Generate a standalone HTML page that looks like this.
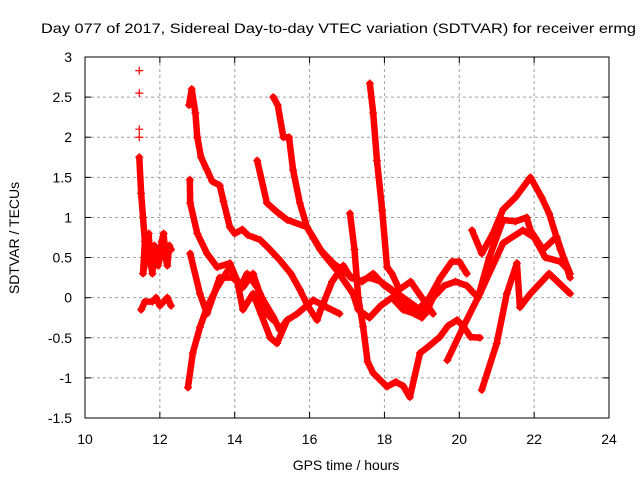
<!DOCTYPE html>
<html><head><meta charset="utf-8"><style>
html,body{margin:0;padding:0;background:#fff}
svg{display:block;font-family:"Liberation Sans",sans-serif}
</style></head><body>
<svg id="chart" width="640" height="480" viewBox="0 0 640 480">
<text x="41" y="33" font-size="14" textLength="595" lengthAdjust="spacingAndGlyphs">Day 077 of 2017, Sidereal Day-to-day VTEC variation (SDTVAR) for receiver ermg</text>
<text x="346" y="470" font-size="14" text-anchor="middle">GPS time / hours</text>
<text transform="translate(19,238) rotate(-90)" font-size="14" text-anchor="middle">SDTVAR / TECUs</text>
<g id="grid"></g>
<g id="ticks"></g>
<g id="marks"></g>
<rect x="85" y="57" width="524" height="361" fill="none" stroke="#000" stroke-width="1"/>
</svg>
<script>
const xTicks=[10,12,14,16,18,20,22,24];
const yTicks=[-1.5,-1,-0.5,0,0.5,1,1.5,2,2.5,3];
const isolated=[[11.45,2.83],[11.45,2.55],[11.45,2.1],[11.45,2.0]];
const trackA1=[[11.45,1.75],[11.5,1.3],[11.55,1.0],[11.6,0.7],[11.55,0.3],[11.65,0.55],[11.7,0.8],[11.75,0.45],[11.8,0.3],[11.85,0.65],[11.9,0.6],[11.95,0.4],[12.0,0.5],[12.05,0.7],[12.1,0.8],[12.15,0.5],[12.2,0.4],[12.25,0.65],[12.3,0.6]];
const trackA2=[[11.5,-0.15],[11.6,-0.05],[11.8,-0.05],[11.9,0.0],[12.0,-0.1],[12.1,-0.05],[12.2,0.0],[12.3,-0.1]];
const trackB=[[12.78,2.4],[12.85,2.6],[12.95,2.3],[13.0,2.0],[13.1,1.75],[13.25,1.6],[13.4,1.45],[13.6,1.4],[13.7,1.2],[13.87,0.88],[14.0,0.8],[14.2,0.85],[14.35,0.78],[14.68,0.72],[14.9,0.62],[15.2,0.47],[15.5,0.3],[15.74,0.1],[15.95,-0.1],[16.2,-0.28],[16.3,-0.15],[16.6,0.2],[16.9,0.4],[17.1,0.25],[17.4,0.2],[17.7,0.3],[18.0,0.15],[18.3,0.05],[18.6,-0.1],[18.9,-0.15],[19.2,0.0],[19.5,0.25],[19.8,0.45],[20.0,0.45],[20.2,0.3]];
const trackC=[[14.6,1.71],[14.86,1.18],[15.1,1.08],[15.4,0.97],[15.93,0.88],[16.28,0.6],[16.63,0.43],[17.0,0.3],[17.3,0.2],[17.6,0.25],[17.9,0.2],[18.2,0.1],[18.5,0.0],[18.8,-0.1],[19.1,-0.2],[19.3,0.0],[19.6,0.15],[19.9,0.2],[20.2,0.15],[20.5,0.0]];
const trackD=[[15.03,2.5],[15.15,2.4],[15.3,2.0],[15.45,2.0],[15.56,1.59],[15.74,1.18],[15.93,0.88],[16.36,0.55],[16.73,0.34],[17.16,0.05],[17.3,-0.15],[17.6,-0.25],[17.9,-0.1],[18.2,0.0],[18.5,-0.15],[18.8,-0.2],[19.0,-0.25],[19.2,0.0]];
const trackE=[[17.08,1.05],[17.2,0.6],[17.3,0.0],[17.43,-0.36],[17.55,-0.8],[17.7,-0.94],[18.07,-1.11],[18.3,-1.05],[18.5,-1.1],[18.68,-1.24],[18.95,-0.69],[19.2,-0.6],[19.48,-0.49],[19.7,-0.35],[19.94,-0.28],[20.1,-0.35],[20.3,-0.49],[20.55,-0.5]];
const trackF=[[17.61,2.67],[17.7,2.3],[17.8,1.71],[17.94,1.09],[18.07,0.38],[18.2,0.3],[18.4,0.1],[18.7,0.2],[19.0,0.0],[19.3,-0.2]];
const trackG=[[20.34,0.84],[20.6,0.55],[20.9,0.8],[21.17,1.1],[21.5,1.25],[21.9,1.5],[22.2,1.25],[22.4,1.05],[22.7,0.6],[22.96,0.3]];
const trackH=[[20.5,0.0],[20.8,0.5],[21.17,0.97],[21.5,0.95],[21.8,1.0],[21.9,0.84],[22.24,0.6],[22.6,0.76],[22.96,0.25]];
const trackI=[[19.68,-0.78],[20.1,-0.37],[20.55,0.05],[21.17,0.68],[21.7,0.84],[22.0,0.75],[22.3,0.5],[22.7,0.45],[22.9,0.35]];
const trackJ=[[20.6,-1.15],[21.0,-0.57],[21.27,0.05],[21.54,0.43],[21.62,-0.12],[21.9,0.05],[22.4,0.3],[22.96,0.05]];
const trackK=[[12.8,1.47],[12.81,1.18],[13.0,0.8],[13.26,0.55],[13.53,0.38],[13.87,0.43],[14.14,0.13],[14.33,0.3],[14.6,0.13],[14.76,-0.03],[15.03,-0.24],[15.2,-0.4],[15.4,-0.28]];
const trackL=[[12.75,-1.12],[12.88,-0.69],[13.07,-0.37],[13.26,-0.12],[13.53,0.13],[13.87,0.38],[14.06,0.22],[14.22,-0.15],[14.49,0.05],[14.7,-0.2],[14.95,-0.5],[15.13,-0.57],[15.4,-0.28],[15.67,-0.2],[16.1,-0.03],[16.46,-0.12],[16.8,-0.2]];
const trackM=[[12.81,0.55],[13.07,0.05],[13.26,-0.2],[13.6,0.25],[13.95,0.25],[14.22,0.13],[14.49,0.3],[14.67,0.05],[14.86,-0.2],[15.03,-0.28]];
const tracks=[trackA1,trackA2,trackB,trackC,trackD,trackE,trackF,trackG,trackH,trackI,trackJ,trackK,trackL,trackM];

const X0=85,X1=609,Y0=418,Y1=57;
function sx(h){return X0+(h-10)/(24-10)*(X1-X0);}
function sy(v){return Y0-(v+1.5)/(3+1.5)*(Y0-Y1);}
const NS='http://www.w3.org/2000/svg';
function mk(t,a,p){const e=document.createElementNS(NS,t);for(const k in a)e.setAttribute(k,a[k]);p.appendChild(e);return e;}
const grid=document.getElementById('grid'),ticks=document.getElementById('ticks'),marks=document.getElementById('marks');
xTicks.forEach(t=>{const x=sx(t);
 if(t>10&&t<24){const g=mk('line',{x1:x,x2:x,y1:Y1,y2:Y0,stroke:'#a0a0a0','stroke-dasharray':'3,3'},grid);
 
 }
 mk('line',{x1:x,x2:x,y1:Y0,y2:Y0-6,stroke:'#000'},ticks);
 mk('line',{x1:x,x2:x,y1:Y1,y2:Y1+6,stroke:'#000'},ticks);
 const l=mk('text',{x:x,y:444,'font-size':14,'text-anchor':'middle'},ticks);l.textContent=t;
 
 
});
yTicks.forEach(t=>{const y=sy(t);
 if(t>-1.5&&t<3){const g=mk('line',{x1:X0,x2:X1,y1:y,y2:y,stroke:'#a0a0a0','stroke-dasharray':'3,3'},grid);
 
 }
 mk('line',{x1:X0,x2:X0+6,y1:y,y2:y,stroke:'#000'},ticks);
 mk('line',{x1:X1,x2:X1-6,y1:y,y2:y,stroke:'#000'},ticks);
 const l=mk('text',{x:72,y:y+5,'font-size':14,'text-anchor':'end'},ticks);l.textContent=t;
 
 
});
function plus(h,v){const x=sx(h),y=sy(v);
 const p=mk('path',{d:`M${x-4},${y}H${x+4}M${x},${y-4}V${y+4}`,stroke:'#f00','stroke-width':1.2},marks);
 
 }
tracks.forEach(tr=>{
 const pl=mk('polyline',{points:tr.map(p=>sx(p[0])+','+sy(p[1])).join(' '),fill:'none',stroke:'#f00','stroke-width':6.5,'stroke-linejoin':'round','stroke-linecap':'round'},marks);
 
 
 tr.forEach(p=>plus(p[0],p[1]));
});
isolated.forEach(p=>plus(p[0],p[1]));
</script>
</body></html>
